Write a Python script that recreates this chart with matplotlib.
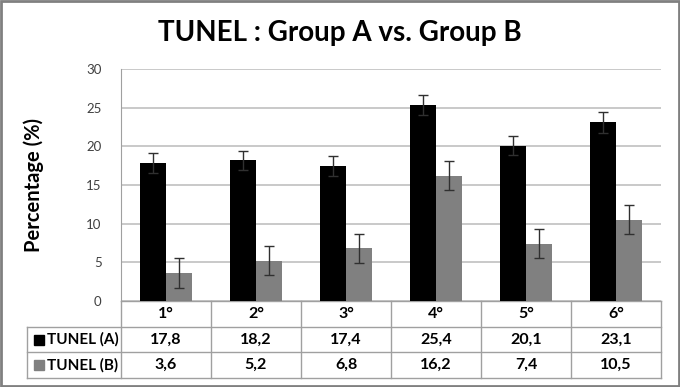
import numpy as np
import matplotlib.pyplot as plt
from matplotlib.patches import Rectangle

plt.rcParams['font.family'] = ['Lato', 'DejaVu Sans']

# Data
categories = ['1°', '2°', '3°', '4°', '5°', '6°']
tunel_a = [17.8, 18.2, 17.4, 25.4, 20.1, 23.1]
tunel_b = [3.6, 5.2, 6.8, 16.2, 7.4, 10.5]
err_a = [1.3, 1.25, 1.3, 1.3, 1.25, 1.35]
err_b = [1.9, 1.85, 1.85, 1.9, 1.85, 1.85]
series_names = ['TUNEL (A)', 'TUNEL (B)']
colors = ['#000000', '#808080']

W, H = 680, 387
fig = plt.figure(figsize=(W / 100, H / 100), dpi=100)

# axes placed in pixel terms
left, right, top, bottom = 121, 661, 69, 301
ax = fig.add_axes([left / W, 1 - bottom / H, (right - left) / W, (bottom - top) / H])

x = np.arange(len(categories))
bw = 0.285
ax.bar(x - bw / 2, tunel_a, bw, color=colors[0], zorder=3)
ax.bar(x + bw / 2, tunel_b, bw, color=colors[1], zorder=3)
ax.errorbar(x - bw / 2, tunel_a, yerr=err_a, fmt='none', ecolor='#303030',
            elinewidth=1, capsize=3.5, capthick=1, zorder=4)
ax.errorbar(x + bw / 2, tunel_b, yerr=err_b, fmt='none', ecolor='#303030',
            elinewidth=1, capsize=3.5, capthick=1, zorder=4)

ax.set_xlim(-0.5, len(categories) - 0.5)
ax.set_ylim(0, 30)
ax.set_yticks(range(0, 31, 5))
ax.set_xticks([])
ax.tick_params(axis='y', length=0, pad=14, labelsize=9.5, labelcolor='#404040')
ax.grid(axis='y', color='#c0c0c0', linewidth=1.2, zorder=0)
for s in ['top', 'right', 'bottom']:
    ax.spines[s].set_visible(False)
ax.spines['left'].set_color('#a0a0a0')

ax.set_ylabel('Percentage (%)', fontsize=14.5, fontweight='bold', labelpad=30)
fig.text(0.5, 1 - 33 / H, 'TUNEL : Group A vs. Group B', ha='center', va='center',
         fontsize=20, fontweight='bold')

# data table under the chart
lc = '#a0a0a0'
row_h = 25.7 / (bottom - top)
tbl_left = (27 - left) / (right - left)
kw = dict(transform=ax.transAxes, clip_on=False, color=lc, linewidth=1)
ax.plot([0, 1], [0, 0], **kw)
for r in range(1, 4):
    ax.plot([tbl_left, 1], [-r * row_h, -r * row_h], **kw)
ax.plot([tbl_left, tbl_left], [-row_h, -3 * row_h], **kw)
for i in range(len(categories) + 1):
    xf = i / len(categories)
    ax.plot([xf, xf], [0, -3 * row_h], **kw)

for i, c in enumerate(categories):
    xf = (i + 0.5) / len(categories)
    ax.text(xf, -0.5 * row_h, c, transform=ax.transAxes, ha='center', va='center',
            fontsize=11.5, fontweight='bold')
    for r, vals in enumerate([tunel_a, tunel_b]):
        ax.text(xf, -(r + 1.5) * row_h, f'{vals[i]:.1f}'.replace('.', ','),
                transform=ax.transAxes, ha='center', va='center',
                fontsize=11.5, fontweight='bold')

for r, (name, col) in enumerate(zip(series_names, colors)):
    yc = -(r + 1.5) * row_h
    sq_w = 10 / (right - left)
    sq_h = 10 / (bottom - top)
    ax.add_patch(Rectangle((tbl_left + 7 / (right - left), yc - sq_h / 2), sq_w, sq_h,
                           transform=ax.transAxes, clip_on=False, color=col))
    ax.text(tbl_left + 20 / (right - left), yc, name, transform=ax.transAxes,
            ha='left', va='center', fontsize=11, fontweight='bold')

# outer frame
fig.add_artist(Rectangle((0.002, 0.003), 0.996, 0.994, transform=fig.transFigure,
                         fill=False, edgecolor='#808080', linewidth=2))

fig.savefig('out.png', dpi=100)
